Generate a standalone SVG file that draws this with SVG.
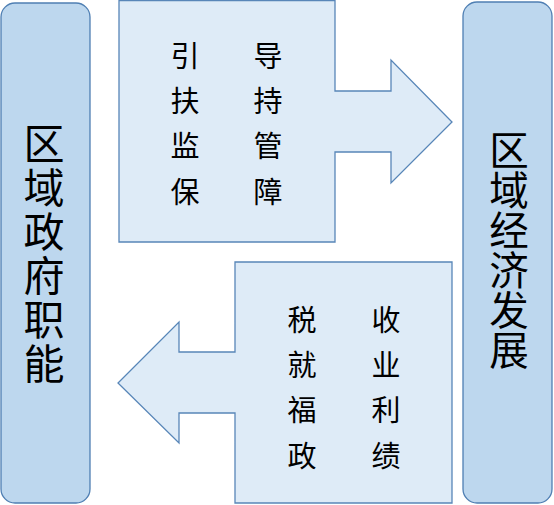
<svg xmlns="http://www.w3.org/2000/svg" width="554" height="505" viewBox="0 0 554 505">
<style>
.side{fill:#bdd7ee;stroke:#4f7fb3;stroke-width:1.3}
.arrow{fill:#deebf7;stroke:#5886b8;stroke-width:1.3}
text{font-family:"Noto Sans CJK SC","Noto Sans",sans-serif;fill:#000;text-anchor:middle;dominant-baseline:central}
.vert{writing-mode:vertical-rl;glyph-orientation-vertical:0}
.big{font-size:41px;letter-spacing:3px}
.bigr{font-size:39.5px;letter-spacing:0.5px}
.small{font-size:29px}
</style>
<rect width="554" height="505" fill="#fff"/>
<g id="connectors">
<g id="arrow-top">
<path class="arrow" d="M119,0.7 H335 V91 H391 V60 L452,122 L391,183 V152 H335 V242 H119 Z"/>
<text class="small" x="185" y="54">引</text>
<text class="small" x="185" y="99">扶</text>
<text class="small" x="185" y="144">监</text>
<text class="small" x="185" y="190">保</text>
<text class="small" x="268" y="54">导</text>
<text class="small" x="268" y="99">持</text>
<text class="small" x="268" y="144">管</text>
<text class="small" x="268" y="190">障</text>
</g>
<g id="arrow-bottom">
<path class="arrow" d="M452,262 V503 H235 V413 H179 V443 L118,383 L179,322 V352 H235 V262 Z"/>
<text class="small" x="302" y="318">税</text>
<text class="small" x="302" y="363">就</text>
<text class="small" x="302" y="408">福</text>
<text class="small" x="302" y="454">政</text>
<text class="small" x="386" y="318">收</text>
<text class="small" x="386" y="363">业</text>
<text class="small" x="386" y="408">利</text>
<text class="small" x="386" y="454">绩</text>
</g>
</g>
<g id="node-left">
<rect class="side" x="1" y="3" width="89" height="500" rx="14"/>
<text class="big vert" x="44" y="255">区域政府职能</text>
</g>
<g id="node-right">
<rect class="side" x="463" y="2" width="89" height="501" rx="14"/>
<text class="bigr vert" x="509" y="250">区域经济发展</text>
</g>
</svg>
